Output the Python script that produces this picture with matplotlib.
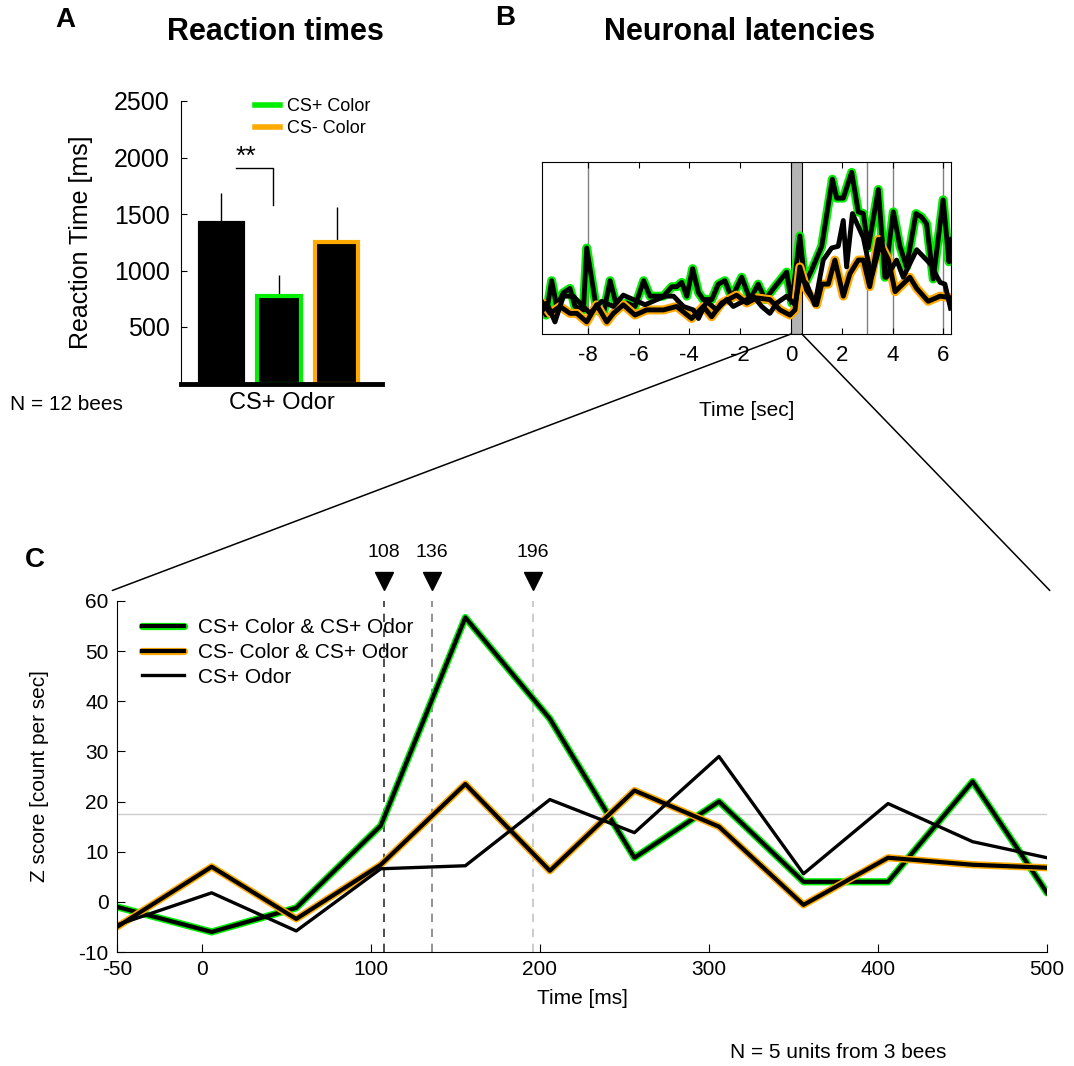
import matplotlib
matplotlib.use("Agg")
import matplotlib.pyplot as plt
import matplotlib.patheffects as pe
from matplotlib.lines import Line2D
from matplotlib.patches import ConnectionPatch

plt.rcParams['font.family'] = ['Liberation Sans', 'DejaVu Sans']
plt.rcParams['axes.unicode_minus'] = False

# ---------------- data ----------------
# A: reaction times
rt_labels = ["CS+ Odor", "CS+ Color", "CS- Color"]
rt_mean = [1420, 774, 1252]
rt_err = [266, 186, 310]
rt_edge = ["black", "#00ee00", "#ffaa00"]

# B: neuronal latencies (arbitrary units, no y scale shown)
b_green_t = [-9.77, -9.64, -9.42, -9.22, -8.96, -8.70, -8.5, -8.17, -8.04, -7.65, -7.38, -7.12, -6.86,
             -6.47, -6.14, -5.80, -5.55, -5.02, -4.69, -4.5, -4.30, -4.1, -3.87, -3.64, -3.45, -3.12,
             -2.86, -2.6, -2.33, -1.94, -1.61, -1.29, -1.02, -0.63, -0.17, 0.03, 0.35, 0.55, 0.81,
             1.21, 1.63, 1.80, 2.06, 2.39, 2.65, 2.85, 3.04, 3.44, 3.70, 4.03, 4.29, 4.55, 4.92,
             5.14, 5.34, 5.6, 5.99, 6.22, 6.32]
b_green_v = [16, 11, 31, 16, 24, 26.5, 16, 14, 50, 14, 12, 31, 16,
             18, 16, 31, 22, 22, 27.5, 27.5, 30, 22, 38, 24, 20, 20,
             29, 31, 21, 33, 20, 29, 20, 27.5, 36, 18, 57, 29, 37,
             51, 90, 79, 79, 94, 71, 70, 50, 84, 33, 71, 51, 39, 70,
             68, 64, 32, 78, 42, 55]
b_orange_t = [-9.77, -9.48, -9.09, -8.70, -8.43, -8.04, -7.65, -7.25, -6.99, -6.6, -6.14, -5.68,
              -5.02, -4.5, -3.91, -3.45, -3.12, -2.73, -2.14, -1.74, -1.35, -0.83, -0.43, -0.04,
              0.16, 0.35, 0.62, 1.01, 1.21, 1.47, 1.73, 2.06, 2.32, 2.65, 2.85, 3.1, 3.44, 3.84,
              4.1, 4.68, 4.95, 5.4, 5.87, 6.32]
b_orange_v = [18, 12, 16, 12, 12, 7, 17, 7, 12, 17, 11, 14,
              14, 16, 9, 16, 10, 18, 22.6, 18, 21, 20, 14, 11,
              14, 39, 25.5, 17, 29, 29, 43, 22, 35, 43, 43, 27.5, 55, 43,
              24.6, 33, 26.5, 19, 22, 21]
b_black_t = [-9.77, -9.61, -9.29, -8.96, -8.57, -8.24, -7.91, -7.45, -6.99, -6.6, -6.2, -5.74,
             -5.28, -4.95, -4.62, -4.23, -3.84, -3.64, -3.32, -2.93, -2.53, -2.27, -1.88, -1.48,
             -1.15, -0.83, -0.56, -0.17, 0.16, 0.35, 0.62, 0.94, 1.27, 1.6, 1.86, 2.06, 2.19,
             2.42, 2.85, 3.17, 3.57, 3.76, 4.16, 4.42, 4.95, 5.47, 5.87, 6.06, 6.28]
b_black_v = [14, 18, 7, 22, 22, 17, 12, 19, 16, 22.6, 20, 17,
             20, 22, 22, 16, 14, 9, 19, 14, 20, 16, 19, 22,
             16, 12, 18, 22, 17, 33, 29, 17, 43, 50, 51, 66, 39,
             70, 56, 33, 55.5, 33, 43, 33, 49, 41, 30, 29, 15]
b_ticks = [-8, -6, -4, -2, 0, 2, 4, 6]
b_vlines = [-8, 3, 4, 6]

# C: z scores
c_time = [-50, 6, 56, 106, 156, 206, 256, 306, 356, 406, 456, 500]
c_green = [-1, -6, -1.2, 15.2, 56.7, 36.5, 8.8, 20, 4, 4, 24, 1.8]
c_orange = [-5, 7, -3.4, 7.4, 23.5, 6.2, 22.2, 15, -0.6, 8.8, 7.4, 6.8]
c_black = [-4.6, 1.8, -5.8, 6.6, 7.2, 20.4, 13.8, 29, 5.6, 19.6, 12, 8.8]
c_latency = [108, 136, 196]
c_latency_col = ["#303030", "#808080", "#c4c4c4"]
c_threshold = 17.6

GREEN = "#00ee00"
ORANGE = "#ffaa00"

W, H = 1074, 1066
fig = plt.figure(figsize=(W / 100, H / 100), dpi=100)


def box(l, t, r, b):
    return [l / W, 1 - b / H, (r - l) / W, (b - t) / H]


def outline(col, w):
    return [pe.Stroke(linewidth=w, foreground=col, joinstyle="round", capstyle="round"), pe.Normal()]


# ---------------- A ----------------
axA = fig.add_axes(box(181, 101, 382, 383.5))
x = [1, 2, 3]
axA.bar(x, rt_mean, width=0.76, color="black", edgecolor=rt_edge, linewidth=3, zorder=2)
axA.errorbar(x, rt_mean, yerr=[[0, 0, 0], rt_err], fmt="none", ecolor="black", elinewidth=1, capsize=0, zorder=1)
axA.plot([1.25, 1.9, 1.9], [1907, 1907, 1580], color="black", lw=1)
axA.text(1.43, 1900, "**", ha="center", va="bottom", fontsize=19)
axA.set_xlim(0.296, 3.79)
axA.set_ylim(0, 2500)
axA.set_yticks([500, 1000, 1500, 2000, 2500])
axA.set_xticks([])
axA.tick_params(axis="y", direction="in", length=4, labelsize=18, pad=8)
for s in ["top", "right"]:
    axA.spines[s].set_visible(False)
axA.spines["bottom"].set_linewidth(3.5)
axA.set_ylabel("Reaction Time [ms]", fontsize=18)
axA.yaxis.set_label_coords(-0.44, 0.5)
axA.set_xlabel(rt_labels[0], fontsize=17)
axA.xaxis.set_label_coords(0.5, -0.03)
hA = [Line2D([], [], color=GREEN, lw=4), Line2D([], [], color=ORANGE, lw=4)]
axA.legend(hA, rt_labels[1:], loc="upper left", bbox_to_anchor=(0.33, 1.035), frameon=False,
           fontsize=13, handlelength=1.4, handletextpad=0.4, labelspacing=0.25, borderaxespad=0)

fig.text(65 / W, 1 - 20 / H, "A", fontsize=20, fontweight="bold", ha="center", va="center")
fig.text(275 / W, 1 - 32 / H, "Reaction times", fontsize=22, fontweight="bold", ha="center", va="center")
fig.text(10 / W, 1 - 405 / H, "N = 12 bees", fontsize=15, ha="left", va="center")

# ---------------- B ----------------
axB = fig.add_axes(box(542, 162, 951, 334))
axB.axvspan(0, 0.43, facecolor="#b4b4b4", edgecolor="black", lw=0.8, zorder=0)
for v in b_vlines:
    axB.axvline(v, color="#808080", lw=1, zorder=0)
axB.plot(b_green_t, b_green_v, color="black", lw=3.5, solid_joinstyle="round",
         path_effects=outline(GREEN, 6.5))
axB.plot(b_orange_t, b_orange_v, color="black", lw=3.5, solid_joinstyle="round",
         path_effects=outline(ORANGE, 6.5))
axB.plot(b_black_t, b_black_v, color="black", lw=3.5, solid_joinstyle="round")
axB.set_xlim(-9.8, 6.3)
axB.set_ylim(0, 100)
axB.set_xticks(b_ticks)
axB.set_yticks([])
axB.tick_params(axis="x", direction="in", top=True, length=4, labelsize=16, pad=8)
axB.set_xlabel("Time [sec]", fontsize=15)
axB.xaxis.set_label_coords(0.5, -0.39)
axB.xaxis.label.set_va("top")

fig.text(505 / W, 1 - 18 / H, "B", fontsize=20, fontweight="bold", ha="center", va="center")
fig.text(740 / W, 1 - 32 / H, "Neuronal latencies", fontsize=22, fontweight="bold", ha="center", va="center")

# ---------------- C ----------------
axC = fig.add_axes(box(117, 601, 1047, 952))
axC.axhline(c_threshold, color="#cccccc", lw=1, zorder=0)
for lat, col in zip(c_latency, c_latency_col):
    axC.axvline(lat, color=col, lw=1.2, ls=(0, (5, 4)), zorder=0)
    axC.plot(lat, 63.9, marker="v", color="black", markersize=13, clip_on=False)
    axC.text(lat, 69.7, str(lat), ha="center", va="center", fontsize=14)
axC.plot(c_time, c_green, color="black", lw=3, label="CS+ Color & CS+ Odor",
         path_effects=outline(GREEN, 5.2))
axC.plot(c_time, c_orange, color="black", lw=3, label="CS- Color & CS+ Odor",
         path_effects=outline(ORANGE, 5.2))
axC.plot(c_time, c_black, color="black", lw=2.4, label="CS+ Odor")
axC.set_xlim(-50, 500)
axC.set_ylim(-10, 60)
axC.set_xticks([-50, 0, 100, 200, 300, 400, 500])
axC.set_yticks(range(-10, 61, 10))
axC.tick_params(direction="in", length=6, labelsize=15, pad=6)
for s in ["top", "right"]:
    axC.spines[s].set_visible(False)
axC.set_xlabel("Time [ms]", fontsize=15)
axC.xaxis.set_label_coords(0.5, -0.105)
axC.xaxis.label.set_va("top")
axC.set_ylabel("Z score [count per sec]", fontsize=15)
axC.yaxis.set_label_coords(-0.073, 0.5)
axC.legend(loc="upper left", bbox_to_anchor=(0.018, 0.975), frameon=False, fontsize=15,
           handlelength=2.0, handletextpad=0.7, labelspacing=0.28, borderaxespad=0)

fig.text(35 / W, 1 - 560 / H, "C", fontsize=20, fontweight="bold", ha="center", va="center")
fig.text(730 / W, 1 - 1053 / H, "N = 5 units from 3 bees", fontsize=15, ha="left", va="center")

# zoom connectors from B shading to C
for xb, xc in [(0, -0.005), (0.43, 1.003)]:
    con = ConnectionPatch(xyA=(xb, 0), coordsA=axB.transData, xyB=(xc, 1.03), coordsB=axC.transAxes,
                          color="black", lw=1.1)
    fig.add_artist(con)

fig.savefig("out.png", dpi=100)
